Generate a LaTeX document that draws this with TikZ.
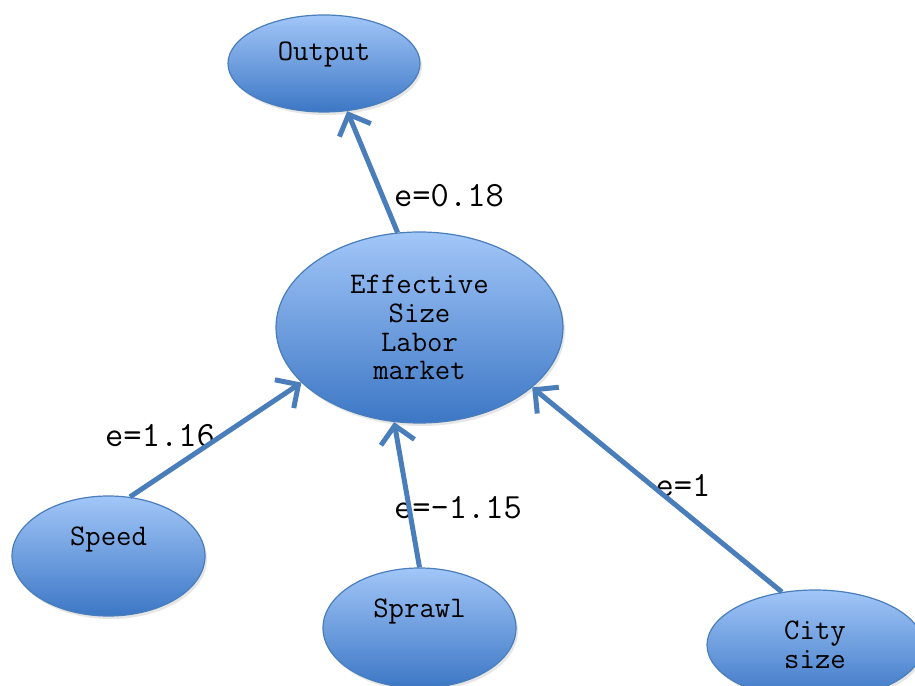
\documentclass[tikz,border=0pt]{standalone}
\usepackage{tikz}
\usetikzlibrary{arrows.meta}
\usetikzlibrary{shapes.geometric, shadows}
\definecolor{edgeblue}{HTML}{4A7EBB}
\definecolor{toplight}{HTML}{A2C6F8}
\definecolor{botdark}{HTML}{3C77C5}

\begin{document}
\begin{tikzpicture}[>={Straight Barb[length=17bp,width=34bp]},line join=bevel,
  blob/.style={ellipse,draw=edgeblue,line width=1.2bp,inner sep=0pt,
    top color=toplight,bottom color=botdark,align=center,
    font=\ttfamily\fontsize{30}{29}\selectfont,
    drop shadow={opacity=0.2,shadow xshift=2bp,shadow yshift=-3bp}},
  elabel/.style={font=\ttfamily\fontsize{35.6}{38}\selectfont,inner sep=0pt},
  link/.style={edgeblue,line width=5bp,->}]
\useasboundingbox (0bp,0bp) rectangle (915bp,686bp);
%%
\node (node_out) at (324bp,622.5bp) [blob,minimum width=192bp,minimum height=97bp,text depth=24bp] {Output};
  \node (node_eff) at (419.5bp,358.5bp) [blob,minimum width=287bp,minimum height=191bp] {Effective\\Size\\Labor\\market};
  \node (node_speed) at (108.5bp,130bp) [blob,minimum width=193bp,minimum height=120bp,text depth=40bp] {Speed};
  \node (node_sprawl) at (419.5bp,58bp) [blob,minimum width=193bp,minimum height=120bp,text depth=40bp] {Sprawl};
  \node (node_city) at (815bp,41bp) [blob,minimum width=216bp,minimum height=110bp] {City\\size};
  \node (lab_out) at (449bp,490bp) [elabel] {e=0.18};
  \node (lab_speed) at (160bp,250bp) [elabel] {e=1.16};
  \node (lab_sprawl) at (458bp,178bp) [elabel] {e=-1.15};
  \node (lab_city) at (683bp,200bp) [elabel] {e=1};
  \draw [link] (node_eff.103) -- (node_out.296);
  \draw [link] (node_speed.70) -- (node_eff.205);
  \draw [link] (node_sprawl.90) -- (node_eff.255);
  \draw [link] (node_city.122) -- (node_eff.332);
%
\end{tikzpicture}
\end{document}
